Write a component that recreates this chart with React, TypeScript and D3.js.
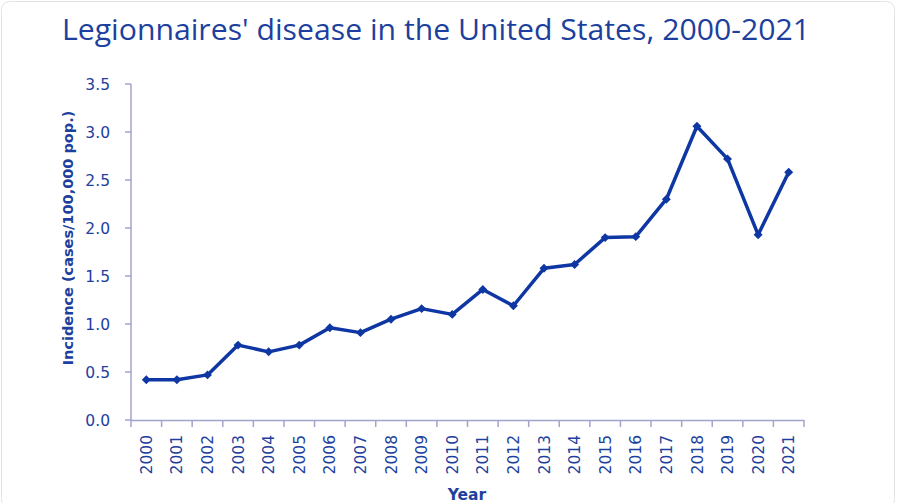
import React from "react";
import * as d3 from "d3";

const WIDTH = 898;
const HEIGHT = 503;

const years = [
  "2000", "2001", "2002", "2003", "2004", "2005", "2006", "2007", "2008", "2009", "2010",
  "2011", "2012", "2013", "2014", "2015", "2016", "2017", "2018", "2019", "2020", "2021",
];
const incidence = [
  0.42, 0.42, 0.47, 0.78, 0.71, 0.78, 0.96, 0.91, 1.05, 1.16, 1.1,
  1.36, 1.19, 1.58, 1.62, 1.9, 1.91, 2.3, 3.06, 2.72, 1.93, 2.58,
];
const yTicks = [0, 0.5, 1, 1.5, 2, 2.5, 3, 3.5];

const TEXT = "#1d3f9e";
const LINE = "#0f37a3";
const AXIS = "#a3a3cf";

export default function App() {
  const x = d3.scaleBand<string>().domain(years).range([131, 804]);
  const y = d3.scaleLinear().domain([0, 3.5]).range([420, 84]);
  const cx = (d: string) => (x(d) || 0) + x.bandwidth() / 2;

  const line = d3
    .line<number>()
    .x((_, i) => cx(years[i]))
    .y((d) => y(d));

  // square turned 45 degrees, so the marker is as wide as it is tall
  const marker = d3.symbol(d3.symbolSquare, 40)() || "";

  return (
    <svg
      width={WIDTH}
      height={HEIGHT}
      style={{ position: "absolute", left: 0, top: 0, background: "#fff" }}
    >
      <rect x={1.5} y={1.5} width={893} height={506} rx={8} fill="#fff" stroke="#e3e3e3" />
      <text
        x={62}
        y={40}
        fill={TEXT}
        fontFamily="'Open Sans', sans-serif"
        fontSize={29}
        textLength={748}
        lengthAdjust="spacingAndGlyphs"
      >
        Legionnaires' disease in the United States, 2000-2021
      </text>

      {/* y axis */}
      <g fontFamily="'DejaVu Sans', Verdana, sans-serif" fontSize={15.5} fill={TEXT}>
        <line x1={131} x2={131} y1={y(3.5)} y2={y(0)} stroke={AXIS} strokeWidth={1.5} />
        {yTicks.map((t) => (
          <g key={t}>
            <line x1={125} x2={131} y1={y(t)} y2={y(t)} stroke={AXIS} strokeWidth={1.5} />
            <text x={110} y={y(t)} dy="0.36em" textAnchor="end">
              {d3.format(".1f")(t)}
            </text>
          </g>
        ))}
        <text
          transform={`translate(73,238) rotate(-90)`}
          textAnchor="middle"
          fontWeight="bold"
          fontSize={14.5}
        >
          Incidence (cases/100,000 pop.)
        </text>
      </g>

      {/* x axis */}
      <g fontFamily="'DejaVu Sans', Verdana, sans-serif" fontSize={15.5} fill={TEXT}>
        <line x1={131} x2={804} y1={420.5} y2={420.5} stroke={AXIS} strokeWidth={1.5} />
        {[...years.map((d) => x(d) || 0), 804].map((p, i) => (
          <line key={i} x1={p} x2={p} y1={420} y2={427} stroke={AXIS} strokeWidth={1.5} />
        ))}
        {years.map((d) => (
          <text
            key={d}
            transform={`translate(${cx(d)},435) rotate(-90)`}
            textAnchor="end"
            dy="0.36em"
          >
            {d}
          </text>
        ))}
        <text x={467} y={500} textAnchor="middle" fontWeight="bold" fontSize={15.5}>
          Year
        </text>
      </g>

      <path
        d={line(incidence) || ""}
        fill="none"
        stroke={LINE}
        strokeWidth={3.5}
        strokeLinejoin="round"
      />
      {incidence.map((v, i) => (
        <path
          key={i}
          d={marker}
          transform={`translate(${cx(years[i])},${y(v)}) rotate(45)`}
          fill={LINE}
        />
      ))}
    </svg>
  );
}
